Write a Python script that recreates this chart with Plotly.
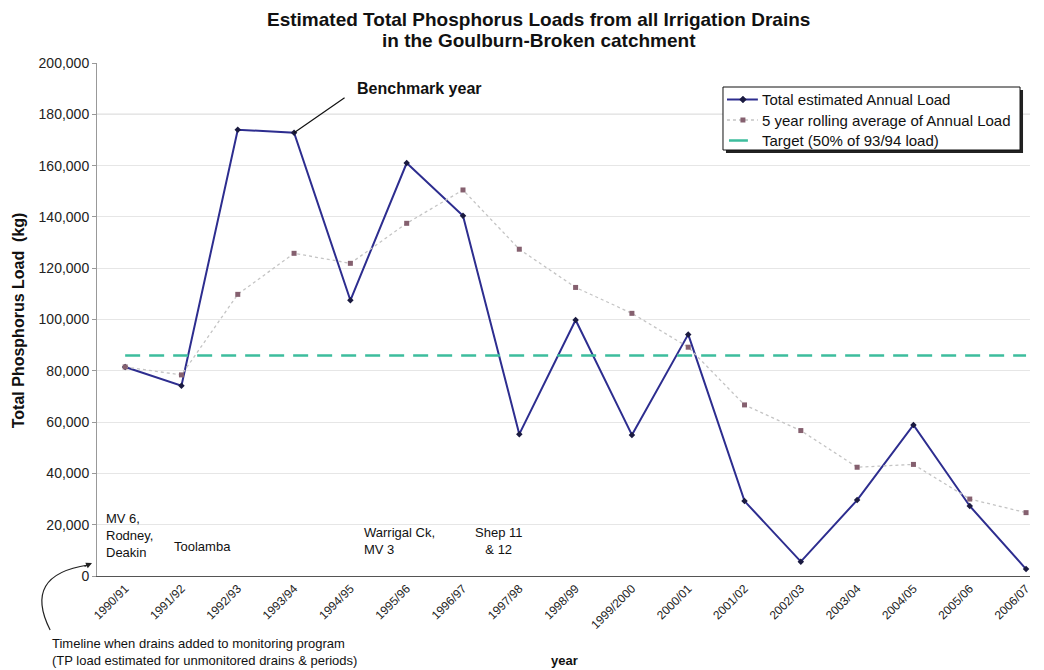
import plotly.graph_objects as go

# ---- data ----
years = ["1990/91", "1991/92", "1992/93", "1993/94", "1994/95", "1995/96", "1996/97",
         "1997/98", "1998/99", "1999/2000", "2000/01", "2001/02", "2002/03", "2003/04",
         "2004/05", "2005/06", "2006/07"]
annual_load = [81500, 74200, 174000, 172800, 107500, 161000, 140400, 55300, 99800,
               55000, 94200, 29200, 5600, 29600, 58900, 27300, 2700]
rolling_avg = [81500, 78400, 109800, 125800, 121900, 137500, 150500, 127400, 112500,
               102400, 89200, 66700, 56700, 42400, 43500, 30000, 24700]
target_load = 86000
target = [target_load for _ in years]
y_ticks = [0, 20000, 40000, 60000, 80000, 100000, 120000, 140000, 160000, 180000, 200000]
series_names = ["Total estimated Annual Load",
                "5 year rolling average of Annual Load",
                "Target (50% of 93/94 load)"]
title_lines = ["Estimated Total Phosphorus Loads from all Irrigation Drains",
               "in the Goulburn-Broken catchment"]

FONT = "Liberation Sans, Arial, sans-serif"
C_MAIN = "#2d2d8f"
C_MAIN_MK = "#1a1a40"
C_ROLL_LINE = "#c4c4c4"
C_ROLL_MK = "#85606f"
C_TARGET = "#3dbd9d"
xi = list(range(len(years)))

fig = go.Figure()
fig.add_trace(go.Scatter(
    x=xi, y=annual_load, mode="lines+markers", name=series_names[0],
    line=dict(color=C_MAIN, width=2),
    marker=dict(symbol="diamond", size=5, color=C_MAIN_MK)))
fig.add_trace(go.Scatter(
    x=xi, y=rolling_avg, mode="lines+markers", name=series_names[1],
    line=dict(color=C_ROLL_LINE, width=1.3, dash="dot"),
    marker=dict(symbol="square", size=5, color=C_ROLL_MK)))
fig.add_trace(go.Scatter(
    x=xi, y=target, mode="lines", name=series_names[2],
    line=dict(color=C_TARGET, width=2.5, dash="15px,9px")))


def px(x):
    return (x - 97) / 936.0


def py(y):
    return (576 - y) / 513.0


TXT = "#111"
annotations = [
    dict(text=f"<b>{title_lines[0]}</b>", xref="paper", yref="paper", x=px(540), y=py(19),
         xanchor="center", yanchor="middle", showarrow=False, font=dict(size=19, color=TXT)),
    dict(text=f"<b>{title_lines[1]}</b>", xref="paper", yref="paper", x=px(540), y=py(41),
         xanchor="center", yanchor="middle", showarrow=False, font=dict(size=19, color=TXT)),
    dict(text="<b>Total Phosphorus Load  (kg)</b>", xref="paper", yref="paper",
         x=px(18), y=py(320), textangle=-90, showarrow=False,
         font=dict(size=16, color=TXT), xanchor="center", yanchor="middle"),
    dict(text="<b>year</b>", xref="paper", yref="paper", x=px(566), y=py(660),
         showarrow=False, font=dict(size=13, color=TXT), xanchor="center", yanchor="middle"),
    dict(text="Timeline when drains added to monitoring program<br>(TP load estimated for unmonitored drains & periods)",
         xref="paper", yref="paper", x=px(50), y=py(652), showarrow=False, align="left",
         font=dict(size=13, color=TXT), xanchor="left", yanchor="middle"),
    dict(text="MV 6,<br>Rodney,<br>Deakin", xref="paper", yref="paper", x=px(104), y=py(535),
         showarrow=False, align="left", font=dict(size=13, color=TXT),
         xanchor="left", yanchor="middle"),
    dict(text="Toolamba", xref="paper", yref="paper", x=px(172), y=py(546),
         showarrow=False, align="left", font=dict(size=13, color=TXT),
         xanchor="left", yanchor="middle"),
    dict(text="Warrigal Ck,<br>MV 3", xref="paper", yref="paper", x=px(363), y=py(541),
         showarrow=False, align="left", font=dict(size=13, color=TXT),
         xanchor="left", yanchor="middle"),
    dict(text="Shep 11<br>& 12", xref="paper", yref="paper", x=px(500), y=py(541),
         showarrow=False, align="center", font=dict(size=13, color=TXT),
         xanchor="center", yanchor="middle"),
    dict(text="<b>Benchmark year</b>", xref="paper", yref="paper", x=px(421), y=py(88),
         showarrow=False, font=dict(size=16, color=TXT), xanchor="center", yanchor="middle"),
    dict(text="", x=3, y=annual_load[3], xref="x", yref="y", showarrow=True,
         arrowhead=0, arrowwidth=1.2, arrowcolor=TXT, ax=52, ay=-36),
    dict(text="", xref="paper", yref="paper", x=px(92), y=py(563), showarrow=True,
         arrowhead=2, arrowsize=1, arrowwidth=1.2, arrowcolor="#222", ax=-9, ay=4),
]

# legend (drawn by hand to match the boxed Excel-style legend)
LG_L, LG_T, LG_R, LG_B = 725, 87, 1023, 150
rows = [99.5, 120, 140.5]
for name, ry in zip(series_names, rows):
    annotations.append(dict(text=name, xref="paper", yref="paper", x=px(762), y=py(ry),
                            xanchor="left", yanchor="middle", showarrow=False,
                            font=dict(size=15, color=TXT)))

shapes = [
    dict(type="line", xref="paper", yref="y", x0=0, x1=1, y0=180000, y1=180000,
         line=dict(color="#b0b0b0", width=1), layer="below"),
    dict(type="path", xref="paper", yref="paper",
         path=f"M {px(50)},{py(630)} Q {px(22)},{py(575)} {px(88)},{py(565)}",
         line=dict(color="#222", width=1.2)),
    # legend shadow + box
    dict(type="rect", xref="paper", yref="paper", x0=px(LG_L + 3), x1=px(LG_R + 3),
         y0=py(LG_T + 3), y1=py(LG_B + 3), fillcolor="#222", line=dict(width=0), layer="above"),
    dict(type="rect", xref="paper", yref="paper", x0=px(LG_L), x1=px(LG_R),
         y0=py(LG_T), y1=py(LG_B), fillcolor="white", line=dict(color="#111", width=1),
         layer="above"),
    # legend symbols
    dict(type="line", xref="paper", yref="paper", x0=px(729), x1=px(760),
         y0=py(rows[0]), y1=py(rows[0]), line=dict(color=C_MAIN, width=2), layer="above"),
    dict(type="path", xref="paper", yref="paper",
         path=f"M {px(745)},{py(rows[0]-3.5)} L {px(748.5)},{py(rows[0])} L {px(745)},{py(rows[0]+3.5)} L {px(741.5)},{py(rows[0])} Z",
         fillcolor=C_MAIN_MK, line=dict(color=C_MAIN_MK, width=0.5), layer="above"),
    dict(type="line", xref="paper", yref="paper", x0=px(729), x1=px(760),
         y0=py(rows[1]), y1=py(rows[1]), line=dict(color=C_ROLL_LINE, width=1.3, dash="dot"),
         layer="above"),
    dict(type="rect", xref="paper", yref="paper", x0=px(742.5), x1=px(747.5),
         y0=py(rows[1]-2.5), y1=py(rows[1]+2.5), fillcolor=C_ROLL_MK,
         line=dict(width=0), layer="above"),
    dict(type="line", xref="paper", yref="paper", x0=px(731), x1=px(750),
         y0=py(rows[2]), y1=py(rows[2]), line=dict(color=C_TARGET, width=2.5), layer="above"),
]

fig.update_layout(
    width=1044, height=670,
    margin=dict(l=97, r=11, t=63, b=94),
    paper_bgcolor="white", plot_bgcolor="white",
    font=dict(family=FONT, color="#222"),
    showlegend=False,
    annotations=annotations,
    shapes=shapes,
)
fig.update_xaxes(
    range=[-0.5, 16.07], tickmode="array", tickvals=xi, ticktext=years,
    tickangle=-45, tickfont=dict(size=12, color="#222"),
    showgrid=False, zeroline=False, showline=True, linecolor="#555", linewidth=1,
    ticks="", fixedrange=True)
fig.update_yaxes(
    range=[0, 200000], tickmode="array", tickvals=y_ticks, tickformat=",",
    tickfont=dict(size=14, color="#222"), showgrid=True, gridcolor="#e6e6e6",
    zeroline=False, showline=True, linecolor="#999", linewidth=1,
    ticks="outside", ticklen=4, tickcolor="#999")

fig.write_html("out.html", config={"displayModeBar": False},
               post_script="document.body.style.margin='0px';")
